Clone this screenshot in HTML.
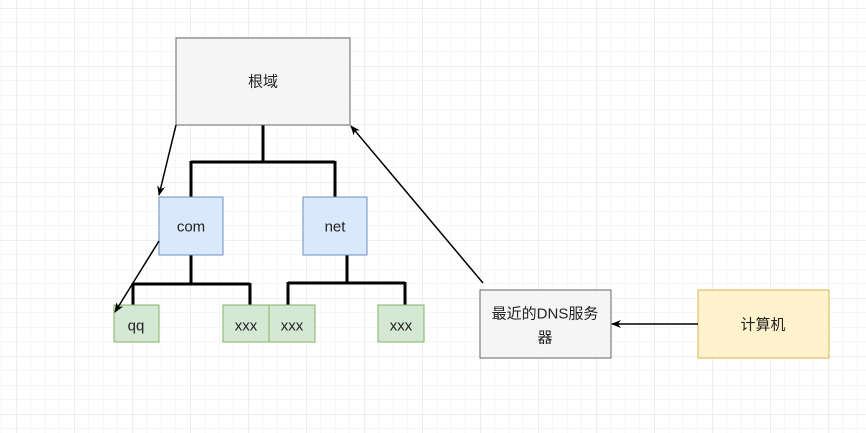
<!DOCTYPE html>
<html><head><meta charset="utf-8"><style>
html,body{margin:0;padding:0;background:#fff}
svg{display:block}
text{font-family:"Liberation Sans","Noto Sans CJK SC",sans-serif;font-size:15px;fill:#222;text-anchor:middle;dominant-baseline:central}
</style></head><body>
<svg width="866" height="433" viewBox="0 0 866 433" xmlns="http://www.w3.org/2000/svg">
<defs>
<pattern id="g" x="1.5" y="-6.5" width="14.5" height="14.5" patternUnits="userSpaceOnUse">
<path d="M0 0H14.5M0 0V14.5" stroke="#ededed" stroke-width="1" fill="none"/>
</pattern>
<pattern id="G" x="16" y="8" width="58" height="58" patternUnits="userSpaceOnUse">
<path d="M0 0H58M0 0V58" stroke="#dedede" stroke-width="1" fill="none"/>
</pattern>
<marker id="a" markerWidth="10" markerHeight="10" refX="9" refY="5" orient="auto" markerUnits="userSpaceOnUse">
<path d="M0 1L10 5L0 9L3 5z" fill="#000"/>
</marker>
</defs>
<rect width="866" height="433" fill="url(#g)"/>
<rect width="866" height="433" fill="url(#G)"/>
<g stroke="#000" stroke-width="3" fill="none">
<path d="M263 125V162M191 162H335M191 161V197M335 161V197"/>
<path d="M191 255V284M133 284H250M133 283V305M250 283V305"/>
<path d="M347 255V283M288 283H405M288 282V305M405 282V305"/>
</g>
<rect x="176" y="38" width="174" height="87" fill="#f5f5f5" stroke="#666"/>
<text x="263" y="82">根域</text>
<rect x="159" y="197" width="64" height="58" fill="#dae8fc" stroke="#6c8ebf"/>
<text x="191" y="227">com</text>
<rect x="303" y="197" width="64" height="58" fill="#dae8fc" stroke="#6c8ebf"/>
<text x="335" y="227">net</text>
<rect x="114" y="305" width="45" height="37" fill="#d5e8d4" stroke="#82b366"/>
<text x="136" y="326">qq</text>
<rect x="223" y="305" width="46" height="37" fill="#d5e8d4" stroke="#82b366"/>
<text x="246" y="326">xxx</text>
<rect x="269" y="305" width="46" height="37" fill="#d5e8d4" stroke="#82b366"/>
<text x="292" y="326">xxx</text>
<rect x="378" y="305" width="46" height="37" fill="#d5e8d4" stroke="#82b366"/>
<text x="401" y="326">xxx</text>
<rect x="480" y="290" width="131" height="68" fill="#f5f5f5" stroke="#666"/>
<text x="545" y="314">最近的DNS服务</text>
<text x="545" y="338">器</text>
<rect x="698" y="290" width="131" height="68" fill="#fff2cc" stroke="#d6b656"/>
<text x="763" y="325">计算机</text>
<g stroke="#000" stroke-width="1.5" fill="none">
<path d="M176 125L159 195" marker-end="url(#a)"/>
<path d="M159 241L115 312" marker-end="url(#a)"/>
<path d="M483 283L351 126" marker-end="url(#a)"/>
<path d="M698 324L612 324" marker-end="url(#a)"/>
</g>
</svg>
</body></html>
